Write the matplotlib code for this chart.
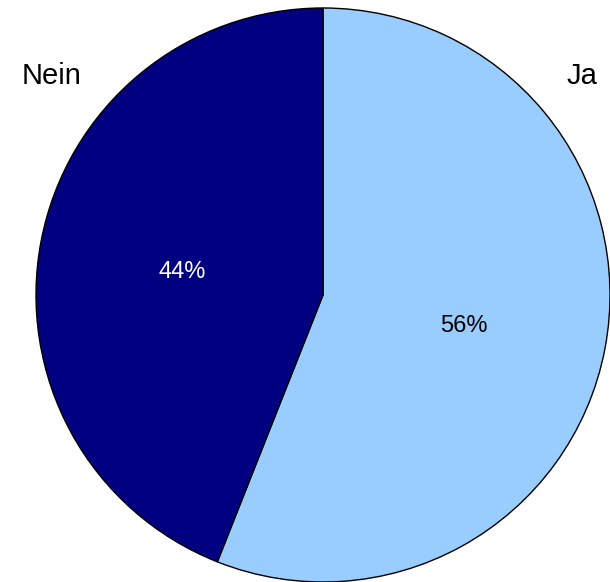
import matplotlib.pyplot as plt

labels = ['Ja', 'Nein']
values = [56, 44]
colors = ['#99CCFF', '#000080']
pct_colors = ['black', 'white']

plt.rcParams['font.family'] = ['Liberation Sans', 'DejaVu Sans']

fig = plt.figure(figsize=(6.1, 5.82), dpi=100)
ax = fig.add_axes([0, 0, 1, 1])

# pie in pixel-like coordinates
wedges, texts, autotexts = ax.pie(
    values, colors=colors, startangle=90, counterclock=False,
    center=(323, 287), radius=287, autopct='%1.0f%%', pctdistance=0.5,
    wedgeprops=dict(edgecolor='black', linewidth=1), textprops=dict(fontsize=17),
    frame=True)
for t, c in zip(autotexts, pct_colors):
    t.set_color(c)
    x, y = t.get_position()
    t.set_verticalalignment('baseline')
    t.set_position((x, y - 10))

# outer labels
ax.text(582, 497.5, labels[0], fontsize=21, ha='center', va='baseline')
ax.text(51.5, 497.5, labels[1], fontsize=21, ha='center', va='baseline')

ax.set_xlim(0, 610)
ax.set_ylim(0, 582)
ax.set_aspect('equal')
ax.axis('off')

fig.savefig('out.png', dpi=100)
